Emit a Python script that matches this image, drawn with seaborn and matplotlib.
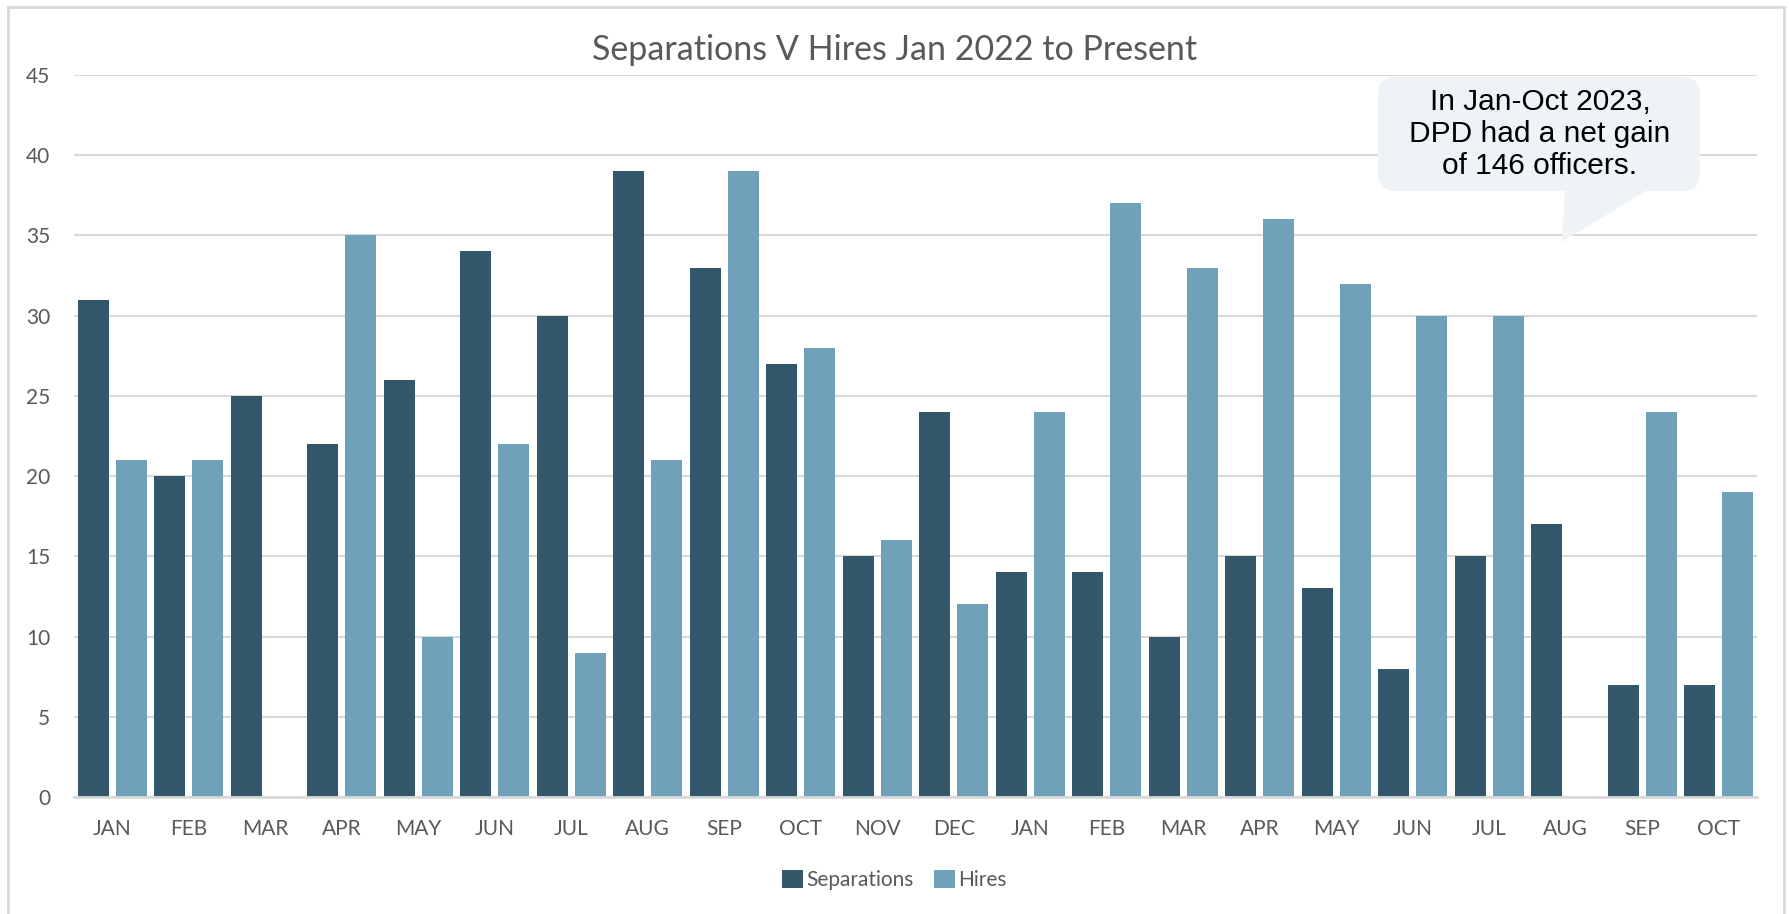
import pandas as pd
import matplotlib.pyplot as plt
import seaborn as sns
from matplotlib.patches import FancyBboxPatch, Polygon, Rectangle
from matplotlib.transforms import IdentityTransform

# ------------------------------------------------------------
# Data
# ------------------------------------------------------------
periods = ["2022-01", "2022-02", "2022-03", "2022-04", "2022-05", "2022-06",
           "2022-07", "2022-08", "2022-09", "2022-10", "2022-11", "2022-12",
           "2023-01", "2023-02", "2023-03", "2023-04", "2023-05", "2023-06",
           "2023-07", "2023-08", "2023-09", "2023-10"]
month_labels = ["JAN", "FEB", "MAR", "APR", "MAY", "JUN", "JUL", "AUG", "SEP",
                "OCT", "NOV", "DEC", "JAN", "FEB", "MAR", "APR", "MAY", "JUN",
                "JUL", "AUG", "SEP", "OCT"]
separations = [31, 20, 25, 22, 26, 34, 30, 39, 33, 27, 15, 24,
               14, 14, 10, 15, 13, 8, 15, 17, 7, 7]
hires = [21, 21, 0, 35, 10, 22, 9, 21, 39, 28, 16, 12,
         24, 37, 33, 36, 32, 30, 30, 0, 24, 19]
y_ticks = [0, 5, 10, 15, 20, 25, 30, 35, 40, 45]

title = "Separations V Hires Jan 2022 to Present"
callout = "In Jan-Oct 2023,\nDPD had a net gain\nof 146 officers."

df = pd.concat([
    pd.DataFrame({"period": periods, "series": "Separations", "value": separations}),
    pd.DataFrame({"period": periods, "series": "Hires", "value": hires}),
])

# ------------------------------------------------------------
# Figure
# ------------------------------------------------------------
W, H = 1789, 914
sns.set_style("white")
plt.rcParams["font.family"] = ["Lato", "DejaVu Sans"]

fig = plt.figure(figsize=(W / 100, H / 100), dpi=100)
ax = fig.add_axes([74 / W, 1 - 797 / H, (1757 - 74) / W, (797 - 75) / H])

gray_txt = "#595959"
grid_col = "#D9D9D9"

sns.barplot(data=df, x="period", y="value", hue="series",
            hue_order=["Separations", "Hires"], order=periods,
            palette=["#34586B", "#6FA1BB"], saturation=1,
            width=1.0, gap=0.19, edgecolor="none", ax=ax, legend=True)

ax.set_ylim(0, 45)
ax.set_yticks(y_ticks)
ax.set_xticks(range(len(periods)))
ax.set_xticklabels(month_labels)
ax.set_xlim(-0.5, len(periods) - 0.5)
ax.set_xlabel("")
ax.set_ylabel("")
ax.tick_params(axis="both", length=0, labelsize=15, labelcolor=gray_txt)
ax.tick_params(axis="y", pad=17)
ax.tick_params(axis="x", pad=16)
ax.yaxis.grid(True, color=grid_col, linewidth=1.5)
ax.set_axisbelow(True)
for side in ["top", "right", "left"]:
    ax.spines[side].set_visible(False)
ax.spines["bottom"].set_color(grid_col)
ax.spines["bottom"].set_linewidth(2)

# legend at the bottom
handles, labels = ax.get_legend_handles_labels()
ax.get_legend().remove()
fig.legend(handles, labels, loc="center", bbox_to_anchor=(0.5, 1 - 880 / H),
           ncol=2, frameon=False, fontsize=15, labelcolor=gray_txt,
           handlelength=1.0, handleheight=1.0, handletextpad=0.15,
           columnspacing=1.0)

fig.text(0.5, 1 - 50 / H, title, ha="center", va="center",
         fontsize=24.5, color=gray_txt)

# ------------------------------------------------------------
# Callout bubble (pixel coordinates, top-left origin)
# ------------------------------------------------------------
px = IdentityTransform()
fill = "#EEF3F7"
box = FancyBboxPatch((1378, H - 191), 1700 - 1378, 191 - 77,
                     boxstyle="round,pad=0,rounding_size=18",
                     transform=px, facecolor=fill, edgecolor="none")
tail = Polygon([(1565, H - 190), (1647, H - 190), (1562, H - 242)],
               closed=True, transform=px, facecolor=fill, edgecolor="none")
fig.patches.extend([box, tail])
fig.text(1540 / W, 1 - 134 / H, callout, ha="center", va="center",
         fontsize=21.5, color="black", linespacing=1.18,
         family=["Liberation Sans", "DejaVu Sans"])

# outer chart border
fig.patches.append(Rectangle((8, -5), 1784 - 8, H - 7 + 5, transform=px,
                             facecolor="none", edgecolor=grid_col, linewidth=2))

fig.savefig("out.png", dpi=100)
